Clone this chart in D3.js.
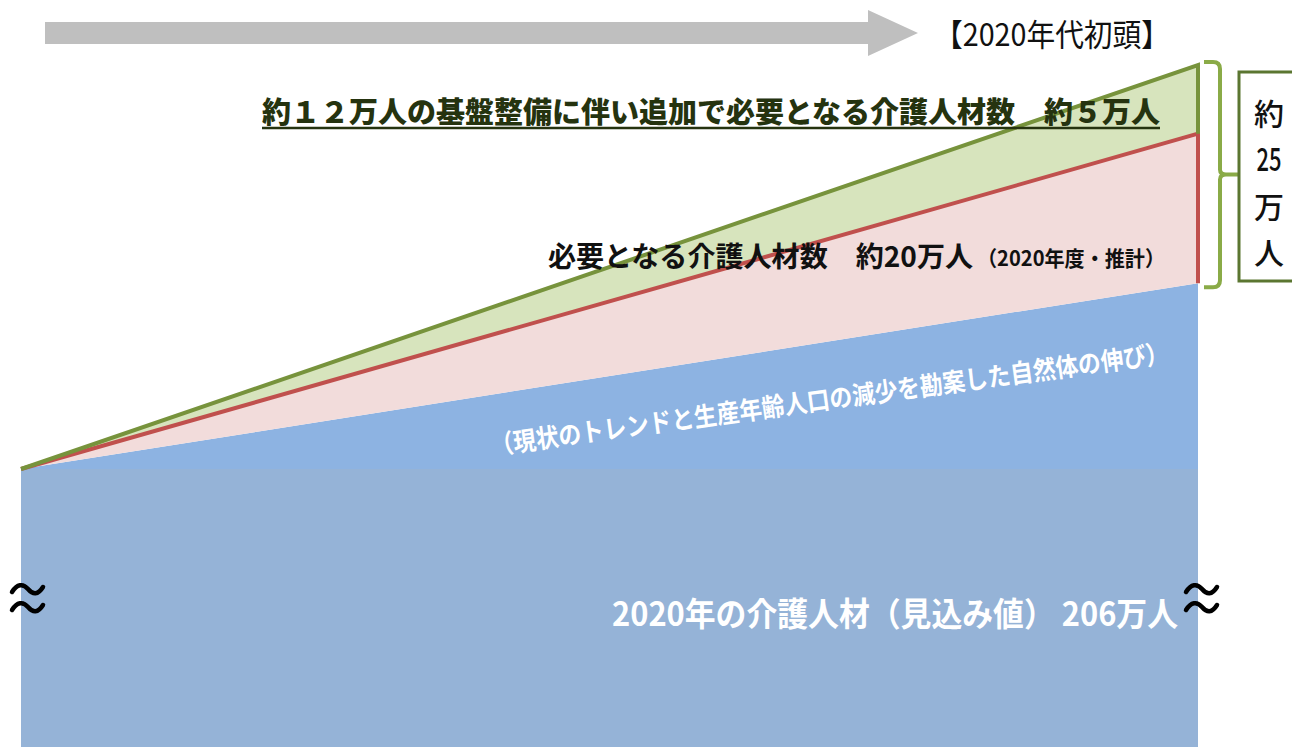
<!DOCTYPE html>
<html>
<head>
<meta charset="utf-8">
<script src="https://cdn.jsdelivr.net/npm/d3@7/dist/d3.min.js"></script>
<style>
  html, body { margin: 0; padding: 0; background: #fff; }
  svg { display: block; }
  text { font-family: "Noto Sans CJK JP", "Noto Sans", sans-serif; }
</style>
</head>
<body>
<div id="chart"></div>
<script>
// ---- data (schematic index: start level = 0, top of green = 100) ----
const timePoints = ["現在", "2020年代初頭"];
const baseBand = [-70, -70];        // broken-axis part below the start level
const startLevel = [0, 0];
const naturalTrend = [0, 46];       // 自然体の伸び
const requiredTotal = [0, 83];      // + 必要となる介護人材数 約20万人
const withInfra = [0, 100];         // + 基盤整備に伴う追加 約5万人
const bracketLabel = ["約", "25", "万", "人"];

const width = 1292, height = 747;

const svg = d3.select("#chart").append("svg")
  .attr("width", width)
  .attr("height", height);

const x = d3.scaleLinear().domain([0, timePoints.length - 1]).range([21, 1198]);
const y = d3.scaleLinear().domain([0, 100]).range([469, 65]);

const idx = d3.range(timePoints.length);

const band = (lo, hi) => d3.area()
  .x(i => x(i))
  .y0(i => y(lo[i]))
  .y1(i => y(hi[i]))(idx);

// -------- areas --------
// lower (broken) block
svg.append("path").attr("d", band(baseBand, startLevel)).attr("fill", "#95b3d7");
// natural growth wedge
svg.append("path").attr("d", band(startLevel, naturalTrend)).attr("fill", "#8db3e2");
// required workers wedge
svg.append("path").attr("d", band(naturalTrend, requiredTotal)).attr("fill", "#f2dcdb");
// additional due to infrastructure
svg.append("path").attr("d", band(requiredTotal, withInfra)).attr("fill", "#d7e4bd");

// -------- lines (top edge + right edge) --------
function edge(top, bottom, color) {
  const last = idx.length - 1;
  const pts = idx.map(i => [x(i), y(top[i])]);
  pts.push([x(last), y(bottom[last])]);
  svg.append("path")
    .attr("d", d3.line()(pts))
    .attr("fill", "none")
    .attr("stroke", color)
    .attr("stroke-width", 4)
    .attr("stroke-linejoin", "miter");
}
edge(requiredTotal, naturalTrend, "#c0504d");
edge(withInfra, requiredTotal, "#77933c");

// -------- grey time arrow --------
svg.append("path")
  .attr("d", "M45,22 H868 V10 L918,33 L868,56 V44 H45 Z")
  .attr("fill", "#bfbfbf");

svg.append("text")
  .attr("x", 934).attr("y", 46)
  .attr("font-size", 31)
  .attr("textLength", 236).attr("lengthAdjust", "spacingAndGlyphs")
  .attr("fill", "#111")
  .text("【2020年代初頭】");

// -------- bracket + box on the right --------
const last = idx.length - 1;
const bTop = y(withInfra[last]) - 3, bBot = y(naturalTrend[last]) + 4;
const bMid = (bTop + bBot) / 2;
svg.append("path")
  .attr("d", `M1204,${bTop} H1213 Q1220,${bTop} 1220,${bTop + 7} V${bMid - 5} Q1220,${bMid} 1226,${bMid} H1238 M1226,${bMid} Q1220,${bMid} 1220,${bMid + 5} V${bBot - 7} Q1220,${bBot} 1213,${bBot} H1204`)
  .attr("fill", "none")
  .attr("stroke", "#8aab47")
  .attr("stroke-width", 4);

svg.append("rect")
  .attr("x", 1239).attr("y", 72)
  .attr("width", 70).attr("height", 209)
  .attr("fill", "#fff")
  .attr("stroke", "#5b7631")
  .attr("stroke-width", 3);

const boxY = [125, 171, 218, 264];
svg.append("g").selectAll("text")
  .data(bracketLabel)
  .join("text")
  .attr("x", 1269)
  .attr("y", (d, i) => boxY[i])
  .attr("text-anchor", "middle")
  .attr("font-size", d => d.length > 1 ? 32 : 30)
  .attr("font-weight", 500)
  .attr("fill", "#111")
  .attr("textLength", d => d.length > 1 ? 25 : null)
  .attr("lengthAdjust", "spacingAndGlyphs")
  .text(d => d);

// -------- labels --------
svg.append("text")
  .attr("x", 262).attr("y", 123)
  .attr("font-size", 29)
  .attr("font-weight", 900)
  .attr("fill", "#25330f")
  .attr("textLength", 898).attr("lengthAdjust", "spacingAndGlyphs")
  .text("約１２万人の基盤整備に伴い追加で必要となる介護人材数　約５万人");
svg.append("line")
  .attr("x1", 262).attr("x2", 1160)
  .attr("y1", 128).attr("y2", 128)
  .attr("stroke", "#25330f").attr("stroke-width", 2.5);

svg.append("text")
  .attr("x", 548).attr("y", 267)
  .attr("font-size", 28)
  .attr("font-weight", 700)
  .attr("fill", "#111")
  .attr("textLength", 425).attr("lengthAdjust", "spacingAndGlyphs")
  .text("必要となる介護人材数　約20万人");
svg.append("text")
  .attr("x", 977).attr("y", 266)
  .attr("font-size", 21)
  .attr("font-weight", 700)
  .attr("fill", "#111")
  .attr("textLength", 188).attr("lengthAdjust", "spacingAndGlyphs")
  .text("（2020年度・推計）");

svg.append("text")
  .attr("transform", "translate(492,455) rotate(-7.8)")
  .attr("font-size", 26)
  .attr("font-weight", 700)
  .attr("fill", "#fff")
  .attr("textLength", 684).attr("lengthAdjust", "spacingAndGlyphs")
  .text("（現状のトレンドと生産年齢人口の減少を勘案した自然体の伸び）");

svg.append("text")
  .attr("x", 612).attr("y", 626)
  .attr("font-size", 33)
  .attr("font-weight", 700)
  .attr("fill", "#fff")
  .attr("textLength", 566).attr("lengthAdjust", "spacingAndGlyphs")
  .text("2020年の介護人材（見込み値） 206万人");

// break marks (double wave)
const wave = "M0,8 C5,0 11,-1 16,5 S26,11 31,3";
[[12, 584], [1186, 584]].forEach(([bx, by]) => {
  const g = svg.append("g").attr("transform", `translate(${bx},${by})`);
  [0, 18].forEach(dy => {
    g.append("path")
      .attr("d", wave)
      .attr("transform", `translate(0,${dy})`)
      .attr("fill", "none")
      .attr("stroke", "#000")
      .attr("stroke-width", 4.5)
      .attr("stroke-linecap", "round");
  });
});
</script>
</body>
</html>
